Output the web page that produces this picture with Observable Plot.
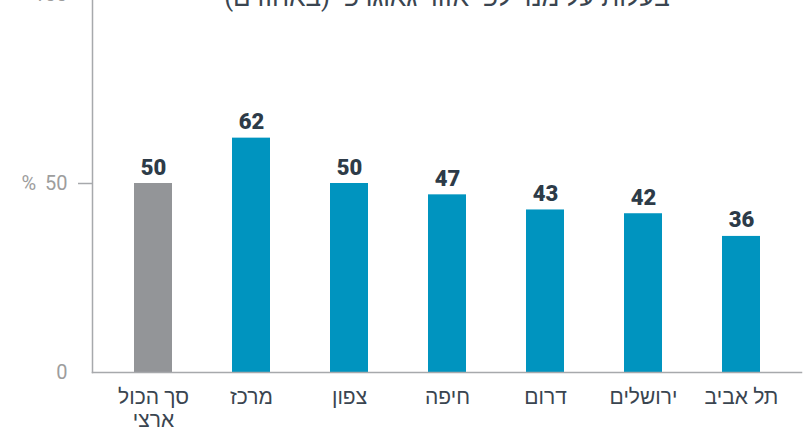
<!DOCTYPE html>
<html><head><meta charset="utf-8">
<script src="https://cdn.jsdelivr.net/npm/d3@7"></script>
<script src="https://cdn.jsdelivr.net/npm/@observablehq/plot@0.6"></script>
<style>
html,body{margin:0;padding:0;background:#fff;overflow:hidden;}
#chart svg{display:block;margin-top:-30px;}
</style></head><body><div id="chart"></div>
<script>
const title = "בעלות על מנוי לפי אזור גאוגרפי (באחוזים)";
const categories = ["סך הכול\nארצי", "מרכז", "צפון", "חיפה", "דרום", "ירושלים", "תל אביב"];
const values = [50, 62, 50, 47, 43, 42, 36];
const barColors = ["#939598", "#0094bf", "#0094bf", "#0094bf", "#0094bf", "#0094bf", "#0094bf"];
const yTicks = [0, 50, 100];
const yUnit = "%";

const data = categories.map((c, i) => ({category: c, value: values[i], color: barColors[i]}));
const font = "Roboto, 'Liberation Sans', 'DejaVu Sans', sans-serif";

const chart = Plot.plot({
  width: 805, height: 469,
  marginTop: 24, marginBottom: 67, marginLeft: 92, marginRight: 4,
  style: {fontFamily: font, background: "#fff"},
  x: {domain: categories, paddingInner: 0.613, paddingOuter: 0.4175, label: null},
  y: {domain: [0, 100], label: null},
  marks: [
    Plot.barY(data, {x: "category", y: "value", fill: "color"}),
    Plot.frame({anchor: "left", stroke: "#a7a9ac", strokeWidth: 1.5}),
    Plot.frame({anchor: "bottom", stroke: "#a7a9ac", strokeWidth: 1.5}),
    Plot.axisY({ticks: [50, 100], tickSize: 14, tickFormat: () => "", stroke: "#a7a9ac", strokeWidth: 1.5}),
    Plot.axisY({ticks: yTicks, tickSize: 0, tickPadding: 25, fontSize: 20, fill: "#9d9d9d"}),
    Plot.text([50], {y: d => d, text: () => yUnit, frameAnchor: "left", dx: -71, fontSize: 20, fill: "#9d9d9d"}),
    Plot.axisX({tickSize: 0, tickPadding: 15, fontSize: 21, fill: "#3a4550", lineHeight: 1.1}),
    Plot.text(data, {x: "category", y: "value", text: d => String(d.value), dy: -9, lineAnchor: "bottom", fontSize: 22, fontWeight: 900, fill: "#2d3b48"}),
    Plot.text([title], {frameAnchor: "top", lineAnchor: "bottom", dy: 11, fontSize: 26, fill: "#3a4550", text: d => "\u200F" + d + "\u200F"})
  ]
});
document.getElementById("chart").appendChild(chart);
</script></body></html>
